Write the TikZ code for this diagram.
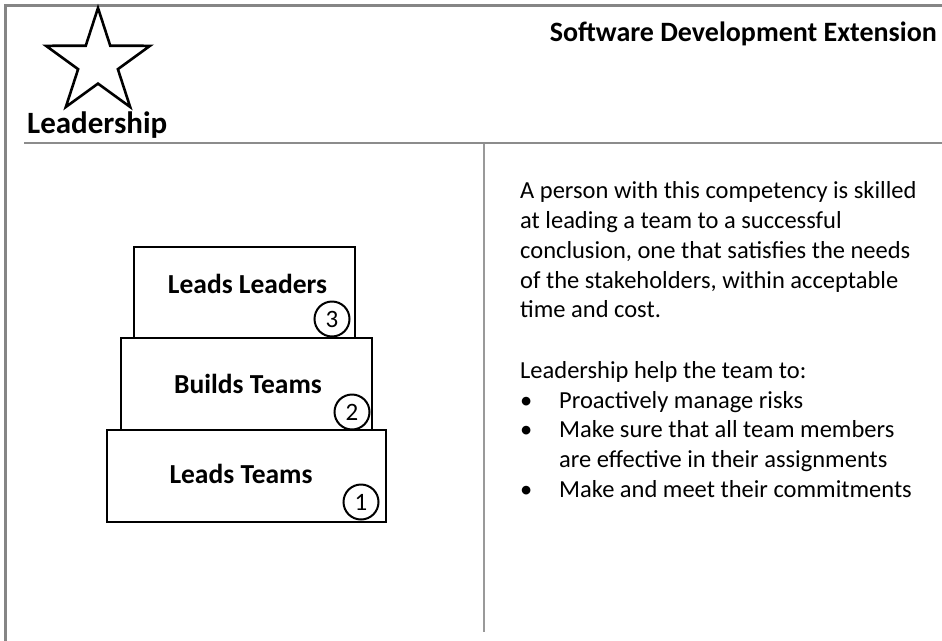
\documentclass[tikz,border=0pt]{standalone}
\usepackage{fontspec}
\setmainfont{Carlito}
\begin{document}
\begin{tikzpicture}[x=1pt,y=-1pt,
  frame/.style={draw=black!48, line width=3pt},
  rule/.style={draw=black!45, line width=2.3pt},
  divider/.style={draw=black!40, line width=2.5pt},
  tier/.style={draw=black, line width=2pt, fill=white, inner sep=0pt},
  tierlabel/.style={font=\bfseries\fontsize{27.5}{32}\selectfont, anchor=base, inner sep=0pt},
  num/.style={draw=black, line width=2pt, circle, minimum size=35pt, inner sep=0pt, font=\fontsize{25}{27}\selectfont},
  body/.style={font=\fontsize{24.5}{28}\selectfont, anchor=base west, inner sep=0pt},
  bul/.style={font=\fontsize{24.5}{28}\selectfont, anchor=base west, inner sep=0pt}
]
\useasboundingbox (0,0) rectangle (942,640);
% frame
\draw[frame] (5.5,645) -- (5.5,5.5) -- (945,5.5);
\draw[rule] (24,143) -- (945,143);
\draw[divider] (484,144) -- (484,632);
% star
\draw[black, line width=2.6pt, line join=miter]
  (98,8) -- (110.28,45.79) -- (150.02,45.8) -- (117.88,69.16) -- (130.15,106.95)
  -- (98,83.6) -- (65.85,106.95) -- (78.12,69.16) -- (45.98,45.8) -- (85.72,45.79) -- cycle;
\node[font=\bfseries\fontsize{31}{36}\selectfont, anchor=base west, inner sep=0pt] (lead) at (27,133) {Leadership};
\node[font=\bfseries\fontsize{28}{32}\selectfont, anchor=base east, inner sep=0pt] (title) at (937,41) {Software Development Extension};
% tiers
\node[tier, minimum width=221pt, minimum height=91pt] (t3) at (244.5,292.5) {};
\node[tier, minimum width=251pt, minimum height=92pt] (t2) at (246.5,384) {};
\node[tier, minimum width=279pt, minimum height=92pt] (t1) at (246.5,476) {};
\node[tierlabel] (l3) at (247.5,293) {Leads Leaders};
\node[tierlabel] (l2) at (248,393) {Builds Teams};
\node[tierlabel] (l1) at (241,483) {Leads Teams};
\node[num] (c3) at (332,319) {3};
\node[num] (c2) at (352,412) {2};
\node[num] (c1) at (361,502) {1};
% text
\node[body] (p1) at (520,198) {A person with this competency is skilled};
\node[body] (p2) at (520,228) {at leading a team to a successful};
\node[body] (p3) at (520,258) {conclusion, one that satisfies the needs};
\node[body] (p4) at (520,288) {of the stakeholders, within acceptable};
\node[body] (p5) at (520,317) {time and cost.};
\node[body] (q0) at (520,378) {Leadership help the team to:};
\node[bul] (b1) at (520,408) {•};
\node[body] (q1) at (559,408) {Proactively manage risks};
\node[bul] (b2) at (520,437) {•};
\node[body] (q2) at (559,437) {Make sure that all team members};
\node[body] (q3) at (559,467) {are effective in their assignments};
\node[bul] (b3) at (520,497) {•};
\node[body] (q4) at (559,497) {Make and meet their commitments};
\end{tikzpicture}
\end{document}
